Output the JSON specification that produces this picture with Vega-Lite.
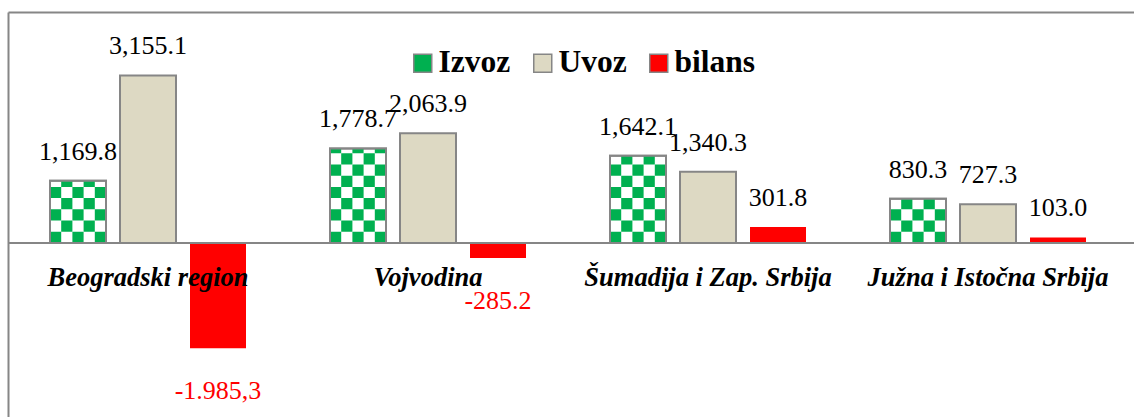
{
  "$schema": "https://vega.github.io/schema/vega-lite/v6.json",
  "width": 1126,
  "height": 405,
  "autosize": "none",
  "padding": {"left": 8, "top": 12, "right": 0, "bottom": 0},
  "background": "white",
  "config": {
    "view": {"stroke": null},
    "font": "Liberation Serif",
    "axis": {"labels": false, "ticks": false, "grid": false, "domainColor": "#868686", "domainWidth": 2}
  },
  "data": {
    "values": [
      {"region": "Beogradski region", "series": "Izvoz", "value": 1169.8, "label": "1,169.8"},
      {"region": "Beogradski region", "series": "Uvoz", "value": 3155.1, "label": "3,155.1"},
      {"region": "Beogradski region", "series": "bilans", "value": -1985.3, "label": "-1.985,3"},
      {"region": "Vojvodina", "series": "Izvoz", "value": 1778.7, "label": "1,778.7"},
      {"region": "Vojvodina", "series": "Uvoz", "value": 2063.9, "label": "2,063.9"},
      {"region": "Vojvodina", "series": "bilans", "value": -285.2, "label": "-285.2"},
      {"region": "Šumadija i Zap. Srbija", "series": "Izvoz", "value": 1642.1, "label": "1,642.1"},
      {"region": "Šumadija i Zap. Srbija", "series": "Uvoz", "value": 1340.3, "label": "1,340.3"},
      {"region": "Šumadija i Zap. Srbija", "series": "bilans", "value": 301.8, "label": "301.8"},
      {"region": "Južna i Istočna Srbija", "series": "Izvoz", "value": 830.3, "label": "830.3"},
      {"region": "Južna i Istočna Srbija", "series": "Uvoz", "value": 727.3, "label": "727.3"},
      {"region": "Južna i Istočna Srbija", "series": "bilans", "value": 103.0, "label": "103.0"}
    ]
  },
  "encoding": {
    "x": {
      "field": "region", "type": "nominal", "title": null,
      "scale": {"domain": ["Beogradski region", "Vojvodina", "Šumadija i Zap. Srbija", "Južna i Istočna Srbija"], "paddingInner": 0, "paddingOuter": 0.0107, "align": 0},
      "axis": {"orient": "top", "title": null}
    },
    "y": {
      "field": "value", "type": "quantitative", "title": null,
      "scale": {"domain": [-3280, 4350], "nice": false, "zero": false},
      "axis": {"title": null}
    }
  },
  "layer": [
    {
      "mark": {"type": "bar", "stroke": "#868686"},
      "encoding": {
        "xOffset": {"field": "series", "type": "nominal", "scale": {"domain": ["Izvoz", "Uvoz", "bilans"], "paddingInner": 0.2, "paddingOuter": 0.6}},
        "fill": {
          "field": "series", "type": "nominal",
          "condition": {"test": "datum.series === 'Izvoz'", "value": "#ffffff"},
          "scale": {"domain": ["Izvoz", "Uvoz", "bilans"], "range": ["#00b050", "#ddd9c3", "#ff0000"]},
          "legend": {
            "orient": "none", "legendX": 399, "legendY": 35, "direction": "horizontal", "title": null,
            "padding": 0, "labelFont": "Liberation Serif", "labelFontSize": 31.5, "labelFontWeight": "bold", "labelColor": "#000000",
            "symbolSize": 324, "columnPadding": 16, "labelOffset": 0, "labelLimit": 300,
            "encode": {
              "symbols": {
                "shape": {"condition": {"test": "datum.value === 'Izvoz'", "value": "M-1,-1H1V1H-1Z M-1,-1V1H1V-1Z M0,-1H1V0H0Z M-1,0H0V1H-1Z"}, "value": "square"},
                "stroke": {"condition": {"test": "datum.value === 'bilans'", "value": "#ff0000"}, "value": "#868686"},
                "strokeWidth": {"value": 1.5},
                "opacity": {"value": 1}
              }
            }
          }
        },
        "strokeWidth": {"condition": {"test": "datum.series === 'bilans'", "value": 0}, "value": 2}
      }
    },
    {
      "transform": [{"filter": "datum.series === 'Izvoz'"}],
      "mark": {"type": "rule", "stroke": "#00b050", "strokeWidth": 11.2, "strokeDash": [11.2, 11.2], "strokeDashOffset": 0, "strokeCap": "butt"},
      "encoding": {"x": {"field": "region", "type": "nominal", "bandPosition": 0.17, "title": null}, "y": {"datum": 0, "type": "quantitative"}, "y2": {"field": "value"}}
    },
    {
      "transform": [{"filter": "datum.series === 'Izvoz'"}],
      "mark": {"type": "rule", "stroke": "#00b050", "strokeWidth": 11.2, "strokeDash": [11.2, 11.2], "strokeDashOffset": 11.2, "strokeCap": "butt"},
      "encoding": {"x": {"field": "region", "type": "nominal", "bandPosition": 0.21, "title": null}, "y": {"datum": 0, "type": "quantitative"}, "y2": {"field": "value"}}
    },
    {
      "transform": [{"filter": "datum.series === 'Izvoz'"}],
      "mark": {"type": "rule", "stroke": "#00b050", "strokeWidth": 11.2, "strokeDash": [11.2, 11.2], "strokeDashOffset": 0, "strokeCap": "butt"},
      "encoding": {"x": {"field": "region", "type": "nominal", "bandPosition": 0.25, "title": null}, "y": {"datum": 0, "type": "quantitative"}, "y2": {"field": "value"}}
    },
    {
      "transform": [{"filter": "datum.series === 'Izvoz'"}],
      "mark": {"type": "rule", "stroke": "#00b050", "strokeWidth": 11.2, "strokeDash": [11.2, 11.2], "strokeDashOffset": 11.2, "strokeCap": "butt"},
      "encoding": {"x": {"field": "region", "type": "nominal", "bandPosition": 0.29, "title": null}, "y": {"datum": 0, "type": "quantitative"}, "y2": {"field": "value"}}
    },
    {
      "transform": [{"filter": "datum.series === 'Izvoz'"}],
      "mark": {"type": "rule", "stroke": "#00b050", "strokeWidth": 11.2, "strokeDash": [11.2, 11.2], "strokeDashOffset": 0, "strokeCap": "butt"},
      "encoding": {"x": {"field": "region", "type": "nominal", "bandPosition": 0.33, "title": null}, "y": {"datum": 0, "type": "quantitative"}, "y2": {"field": "value"}}
    },
    {
      "transform": [{"filter": "datum.series === 'Izvoz'"}],
      "mark": {"type": "bar", "fill": "transparent", "stroke": "#868686", "strokeWidth": 2},
      "encoding": {
        "xOffset": {"field": "series", "type": "nominal"}
      }
    },
    {
      "mark": {"type": "rule", "stroke": "#868686", "strokeWidth": 2},
      "encoding": {"y": {"datum": 0, "type": "quantitative"}, "x": null}
    },
    {
      "transform": [{"filter": "datum.value >= 0"}],
      "mark": {"type": "text", "fontSize": 26, "baseline": "alphabetic", "dy": -21, "color": "#000000", "font": "Liberation Serif"},
      "encoding": {
        "xOffset": {"field": "series", "type": "nominal"},
        "text": {"field": "label"}
      }
    },
    {
      "transform": [{"filter": "datum.value < 0"}],
      "mark": {"type": "text", "fontSize": 26, "baseline": "alphabetic", "dy": 51, "color": "#ff0000", "font": "Liberation Serif"},
      "encoding": {
        "xOffset": {"field": "series", "type": "nominal"},
        "text": {"field": "label"}
      }
    },
    {
      "transform": [{"filter": "datum.series === 'Izvoz'"}],
      "mark": {"type": "text", "fontSize": 26.5, "fontWeight": "bold", "fontStyle": "italic", "baseline": "alphabetic", "dy": 43, "color": "#000000", "font": "Liberation Serif"},
      "encoding": {
        "y": {"datum": 0, "type": "quantitative"},
        "text": {"field": "region"}
      }
    }
  ]
}
